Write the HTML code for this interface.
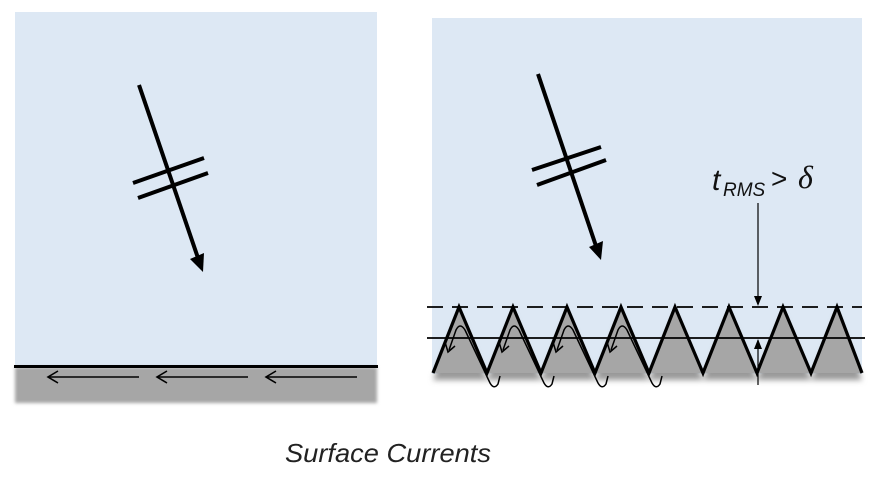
<!DOCTYPE html>
<html><head><style>
body{margin:0;background:#fff;width:881px;height:481px;overflow:hidden}
</style></head><body>
<svg width="881" height="481" xmlns="http://www.w3.org/2000/svg">
<defs>
<filter id="b" x="-5%" y="-20%" width="110%" height="150%"><feGaussianBlur stdDeviation="3"/></filter>
<filter id="b2"><feGaussianBlur stdDeviation="1.5"/></filter>
</defs>
<rect x="15" y="12" width="362" height="356" fill="#dde8f4"/>
<rect x="15" y="367" width="362" height="36" fill="#a6a6a6" filter="url(#b2)"/>
<line x1="14" y1="366.5" x2="378" y2="366.5" stroke="#000" stroke-width="3"/>
<g stroke="#000" stroke-width="1.6" fill="none">
<line x1="48" y1="377" x2="139" y2="377"/><polyline points="58,371 48,377 58,383"/>
<line x1="157" y1="377" x2="248" y2="377"/><polyline points="167,371 157,377 167,383"/>
<line x1="266" y1="377" x2="357" y2="377"/><polyline points="276,371 266,377 276,383"/>
</g>
<g stroke="#000" stroke-width="4">
<line x1="139" y1="85" x2="198" y2="258"/>
<line x1="133" y1="183" x2="204" y2="158"/>
<line x1="138" y1="198" x2="208" y2="173"/>
</g>
<polygon points="203,272 190,259 204,253" fill="#000"/>
<rect x="432" y="18" width="430" height="356" fill="#dde8f4"/>
<polygon points="433,380 459,314 487,380 513,314 541,380 567,314 595,380 621,314 649,380 675,314 703,380 729,314 757,380 783,314 811,380 837,314 862,380" fill="#999" filter="url(#b)"/>
<polygon points="433,373 459,307 487,373 513,307 541,373 567,307 595,373 621,307 649,373 675,307 703,373 729,307 757,373 783,307 811,373 837,307 862,373" fill="#a6a6a6"/>
<line x1="427" y1="307" x2="862" y2="307" stroke="#000" stroke-width="1.8" stroke-dasharray="16,9"/>
<line x1="427" y1="338" x2="865" y2="338" stroke="#000" stroke-width="1.8"/>
<g stroke="#000" stroke-width="1.5" fill="none">
<path d="M449,350 L456,330 Q460,322 465,330 L490,383 Q494,390 498,384 L500,376"/>
<path d="M503,350 L510,330 Q514,322 519,330 L544,383 Q548,390 552,384 L554,376"/>
<path d="M557,350 L564,330 Q568,322 573,330 L598,383 Q602,390 606,384 L608,376"/>
<path d="M611,350 L618,330 Q622,322 627,330 L652,383 Q656,390 660,384 L662,376"/>
<polyline points="445,342 448,352 455,346"/>
<polyline points="499,342 502,352 509,346"/>
<polyline points="553,342 556,352 563,346"/>
<polyline points="607,342 610,352 617,346"/>
</g>
<polyline points="433,373 459,307 487,373 513,307 541,373 567,307 595,373 621,307 649,373 675,307 703,373 729,307 757,373 783,307 811,373 837,307 862,373" fill="none" stroke="#000" stroke-width="3.2" stroke-linejoin="miter"/>
<line x1="758" y1="203" x2="758" y2="304" stroke="#000" stroke-width="1.2"/>
<polygon points="758,306 754,296 762,296" fill="#000"/>
<line x1="758" y1="340" x2="758" y2="385" stroke="#000" stroke-width="1.2"/>
<polygon points="758,339 754,349 762,349" fill="#000"/>
<g stroke="#000" stroke-width="4">
<line x1="538" y1="74" x2="596" y2="246"/>
<line x1="532" y1="170" x2="601" y2="147"/>
<line x1="537" y1="185" x2="606" y2="160"/>
</g>
<polygon points="601,260 589,247 603,241" fill="#000"/>
<text x="712" y="190" font-family="Liberation Sans, sans-serif" font-style="italic" font-size="30" fill="#111">t</text>
<text x="723" y="196" font-family="Liberation Sans, sans-serif" font-style="italic" font-size="19" fill="#111">RMS</text>
<text x="771" y="188" font-family="Liberation Sans, sans-serif" font-size="28" fill="#111">&gt;</text>
<text x="798" y="188" font-family="Liberation Serif, serif" font-style="italic" font-size="32" fill="#111">δ</text>
<text x="388" y="462" text-anchor="middle" font-family="Liberation Sans, sans-serif" font-style="italic" font-size="26" fill="#222" textLength="206" lengthAdjust="spacingAndGlyphs">Surface Currents</text>
</svg>
</body></html>
